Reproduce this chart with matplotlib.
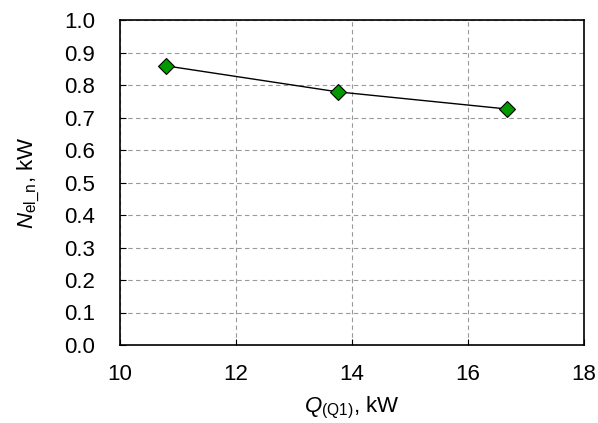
import matplotlib
matplotlib.use("Agg")
import matplotlib.pyplot as plt

# data
q_q1 = [10.79, 13.75, 16.68]
n_el = [0.859, 0.779, 0.726]

x_ticks = [10, 12, 14, 16, 18]
y_ticks = [0.0, 0.1, 0.2, 0.3, 0.4, 0.5, 0.6, 0.7, 0.8, 0.9, 1.0]

plt.rcParams['font.family'] = ['Liberation Sans', 'DejaVu Sans']
plt.rcParams['mathtext.fontset'] = 'custom'
plt.rcParams['mathtext.rm'] = 'Liberation Sans'
plt.rcParams['mathtext.it'] = 'Liberation Sans:italic'


def main():
    fig = plt.figure(figsize=(5.98, 4.23), dpi=100)
    ax = fig.add_axes([120 / 598, 1 - 345 / 423, 464 / 598, 325 / 423])

    ax.plot(q_q1, n_el, color='black', linewidth=1.0, marker='D',
            markersize=8, markerfacecolor='#009900', markeredgecolor='black',
            markeredgewidth=0.8, zorder=3)

    ax.set_xlim(10, 18)
    ax.set_ylim(0, 1.0)
    ax.set_xticks(x_ticks)
    ax.set_yticks(y_ticks)
    ax.set_yticklabels(['%.1f' % v for v in y_ticks])
    ax.grid(True, color='#999999', linestyle=(0, (4, 3)), linewidth=0.8)
    ax.tick_params(direction='in', length=4, width=0.8, labelsize=16)
    ax.tick_params(axis='x', pad=14)
    ax.tick_params(axis='y', pad=18)
    for s in ax.spines.values():
        s.set_linewidth(1.2)

    ax.set_xlabel(r'$\mathit{Q}_{\mathrm{(Q1)}}$, kW', fontsize=16, labelpad=7)
    ax.set_ylabel(r'$\mathit{N}_{\mathrm{el\_n}}$, kW', fontsize=16, labelpad=16)

    fig.savefig('out.png', dpi=100)


if __name__ == "__main__":
    main()
